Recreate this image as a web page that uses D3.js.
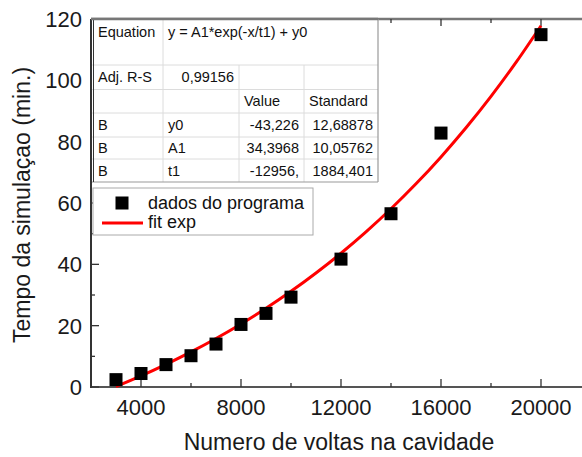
<!DOCTYPE html>
<html>
<head>
<meta charset="utf-8">
<script src="https://cdn.jsdelivr.net/npm/d3@7"></script>
<style>
  html, body { margin: 0; padding: 0; background: #fff; }
  svg { display: block; font-family: "Liberation Sans", Arial, sans-serif; }
</style>
</head>
<body>
<svg id="chart" width="582" height="457"></svg>
<script>
// ---- data ----
const xData = [3000, 4000, 5000, 6000, 7000, 8000, 9000, 10000, 12000, 14000, 16000, 20000];
const yData = [2.4, 4.4, 7.3, 10.2, 14.0, 20.4, 24.0, 29.3, 41.7, 56.5, 82.8, 114.9];
const fitX = [3000, 4000, 5000, 6000, 7000, 8000, 9000, 10000, 11000, 12000, 13000, 14000, 15000, 16000, 17000, 18000, 19000, 20000];
const fitY = [0.13, 3.61, 7.37, 11.43, 15.82, 20.56, 25.67, 31.20, 37.18, 43.62, 50.59, 58.12, 66.25, 75.04, 84.53, 94.78, 105.85, 117.81];
const xMajorTicks = [4000, 8000, 12000, 16000, 20000];
const xMinorTicks = [6000, 10000, 14000, 18000];
const yMajorTicks = [0, 20, 40, 60, 80, 100, 120];
const yMinorTicks = [10, 30, 50, 70, 90, 110];
const xTitle = "Numero de voltas na cavidade";
const yTitle = "Tempo da simulaçao (min.)";
const legendLabels = ["dados do programa", "fit exp"];
const tableRows = [
  ["Equation", "y = A1*exp(-x/t1) + y0"],
  ["Adj. R-S", "0,99156", "", ""],
  ["", "", "Value", "Standard"],
  ["B", "y0", "-43,226", "12,68878"],
  ["B", "A1", "34,3968", "10,05762"],
  ["B", "t1", "-12956,", "1884,401"]
];

// ---- layout ----
const svg = d3.select("#chart");
const pLeft = 91, pTop = 19, pBottom = 387, pRight = 582;
const x = d3.scaleLinear().domain([2000, 21640]).range([pLeft, pRight]);
const y = d3.scaleLinear().domain([0, 120]).range([pBottom, pTop]);
const axisColor = "#555";

// axes lines
svg.append("line").attr("x1", pLeft).attr("x2", pRight).attr("y1", pBottom).attr("y2", pBottom)
  .attr("stroke", axisColor).attr("stroke-width", 2);
svg.append("line").attr("x1", pLeft).attr("x2", pRight).attr("y1", pTop).attr("y2", pTop)
  .attr("stroke", "#777").attr("stroke-width", 2.5);
svg.append("line").attr("x1", pLeft).attr("x2", pLeft).attr("y1", pTop).attr("y2", pBottom + 1)
  .attr("stroke", "#333").attr("stroke-width", 2);

// ticks (inward) bottom, top and left
const tickG = svg.append("g").attr("stroke", "#333").attr("stroke-width", 1.3);
xMajorTicks.forEach(v => {
  tickG.append("line").attr("x1", x(v)).attr("x2", x(v)).attr("y1", pBottom).attr("y2", pBottom - 8);
  tickG.append("line").attr("x1", x(v)).attr("x2", x(v)).attr("y1", pTop).attr("y2", pTop + 7);
});
xMinorTicks.forEach(v => {
  tickG.append("line").attr("x1", x(v)).attr("x2", x(v)).attr("y1", pBottom).attr("y2", pBottom - 4);
  tickG.append("line").attr("x1", x(v)).attr("x2", x(v)).attr("y1", pTop).attr("y2", pTop + 4);
});
yMajorTicks.forEach(v => {
  tickG.append("line").attr("x1", pLeft).attr("x2", pLeft + 8).attr("y1", y(v)).attr("y2", y(v));
});
yMinorTicks.forEach(v => {
  tickG.append("line").attr("x1", pLeft).attr("x2", pLeft + 4).attr("y1", y(v)).attr("y2", y(v));
});

// tick labels
svg.append("g").selectAll("text").data(xMajorTicks).join("text")
  .attr("x", d => x(d)).attr("y", 415).attr("text-anchor", "middle")
  .attr("font-size", 22).attr("fill", "#1a1a1a").text(d => d);
svg.append("g").selectAll("text").data(yMajorTicks).join("text")
  .attr("x", 82).attr("y", d => y(d) + 8).attr("text-anchor", "end")
  .attr("font-size", 22).attr("fill", "#1a1a1a").text(d => d);

// axis titles
svg.append("text").attr("x", 339).attr("y", 450).attr("text-anchor", "middle")
  .attr("font-size", 23).attr("fill", "#1a1a1a").text(xTitle);
svg.append("text").attr("transform", "translate(30,205) rotate(-90)").attr("text-anchor", "middle")
  .attr("font-size", 23).attr("fill", "#1a1a1a").text(yTitle);

// fit curve
const line = d3.line().x(d => x(d[0])).y(d => y(d[1])).curve(d3.curveMonotoneX);
svg.append("path").datum(fitX.map((v, i) => [v, fitY[i]]))
  .attr("d", line).attr("fill", "none").attr("stroke", "#ff0000").attr("stroke-width", 3);

// data points
const sq = 13;
svg.append("g").selectAll("rect").data(xData.map((v, i) => [v, yData[i]])).join("rect")
  .attr("x", d => x(d[0]) - sq / 2).attr("y", d => y(d[1]) - sq / 2)
  .attr("width", sq).attr("height", sq).attr("fill", "#000");

// ---- table ----
const tbl = svg.append("g");
const colX = [92, 163, 239, 304, 378];
const rowY = [19, 65, 89.5, 113, 137, 159, 182];
tbl.append("rect").attr("x", colX[0]).attr("y", rowY[0]).attr("width", colX[4] - colX[0])
  .attr("height", rowY[6] - rowY[0]).attr("fill", "#fff");
for (let r = 1; r < rowY.length - 1; r++) {
  tbl.append("line").attr("x1", colX[0]).attr("x2", colX[4]).attr("y1", rowY[r]).attr("y2", rowY[r])
    .attr("stroke", "#dcdcdc").attr("stroke-width", 1);
}
tbl.append("line").attr("x1", colX[1]).attr("x2", colX[1]).attr("y1", rowY[0]).attr("y2", rowY[6])
  .attr("stroke", "#dcdcdc");
[2, 3].forEach(c => {
  tbl.append("line").attr("x1", colX[c]).attr("x2", colX[c]).attr("y1", rowY[1]).attr("y2", rowY[6])
    .attr("stroke", "#dcdcdc");
});
tbl.append("line").attr("x1", colX[4]).attr("x2", colX[4]).attr("y1", rowY[0]).attr("y2", rowY[6])
  .attr("stroke", "#999").attr("stroke-width", 1.2);
tbl.append("line").attr("x1", colX[0]).attr("x2", colX[4]).attr("y1", rowY[6]).attr("y2", rowY[6])
  .attr("stroke", "#999").attr("stroke-width", 1.2);
tbl.append("line").attr("x1", 93.5).attr("x2", 93.5).attr("y1", rowY[0]).attr("y2", rowY[6])
  .attr("stroke", "#333").attr("stroke-width", 1);
// redraw top axis over table
svg.append("line").attr("x1", pLeft).attr("x2", colX[4]).attr("y1", pTop).attr("y2", pTop)
  .attr("stroke", "#777").attr("stroke-width", 2.5);

const fs = 14.5;
tableRows.forEach((row, r) => {
  const baseline = r === 0 ? rowY[0] + 18 : (rowY[r] + rowY[r + 1]) / 2 + 5;
  row.forEach((txt, c) => {
    if (!txt) return;
    const numeric = /^-?[0-9]/.test(txt) && r !== 0;
    const t = tbl.append("text").attr("y", baseline).attr("font-size", fs).attr("fill", "#111").text(txt);
    if (numeric) {
      t.attr("x", colX[c + 1] - 5).attr("text-anchor", "end");
    } else {
      t.attr("x", colX[c] + (c === 0 ? 6 : 5)).attr("text-anchor", "start");
    }
  });
});

// ---- legend ----
const lg = svg.append("g");
lg.append("rect").attr("x", 93).attr("y", 188).attr("width", 220).attr("height", 47)
  .attr("fill", "#fff").attr("stroke", "#aaa").attr("stroke-width", 1);
lg.append("rect").attr("x", 122 - sq / 2).attr("y", 203 - sq / 2).attr("width", sq).attr("height", sq).attr("fill", "#000");
lg.append("line").attr("x1", 102).attr("x2", 143).attr("y1", 223).attr("y2", 223)
  .attr("stroke", "#ff0000").attr("stroke-width", 3);
lg.append("text").attr("x", 148).attr("y", 209).attr("font-size", 18).attr("fill", "#111").text(legendLabels[0]);
lg.append("text").attr("x", 148).attr("y", 228).attr("font-size", 18).attr("fill", "#111").text(legendLabels[1]);
</script>
</body>
</html>
